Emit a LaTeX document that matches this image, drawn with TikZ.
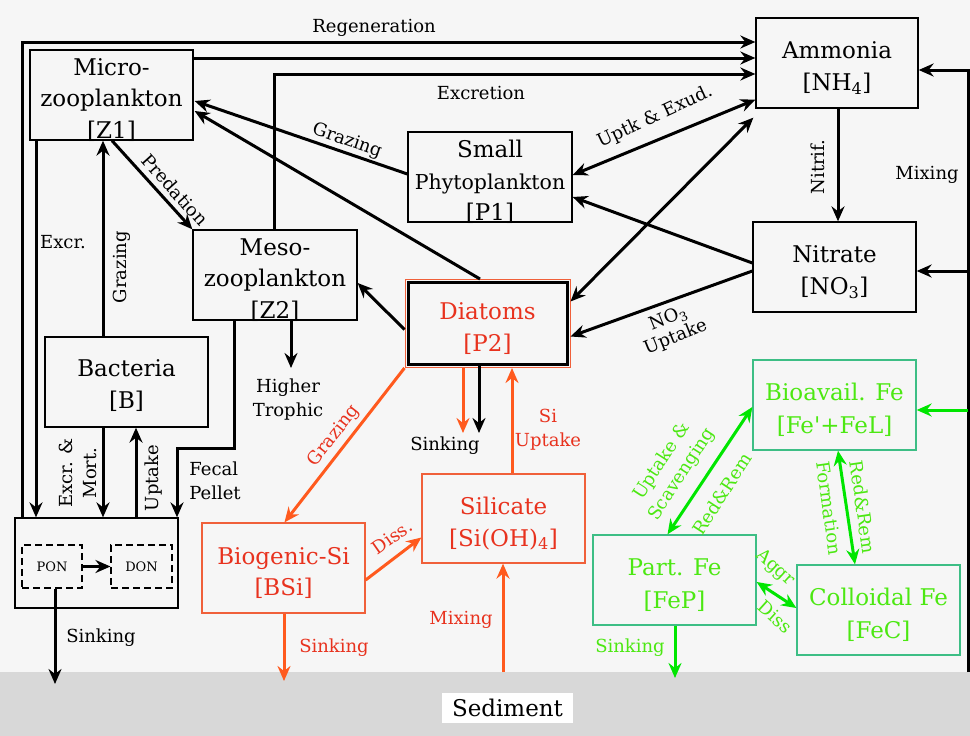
\documentclass[tikz,border=0pt]{standalone}
\usepackage{fontspec}
\setmainfont{DejaVu Serif}[Ligatures=TeXOff]
\usetikzlibrary{arrows.meta,calc}
\definecolor{bg}{HTML}{F6F6F6}
\definecolor{sed}{HTML}{D8D8D8}
\definecolor{sired}{HTML}{E8321E}
\definecolor{siline}{HTML}{FF5A1E}
\definecolor{sibox}{HTML}{F0603A}
\definecolor{fetext}{HTML}{4CE812}
\definecolor{feline}{HTML}{00E600}
\definecolor{febox}{HTML}{3DBE85}
\begin{document}
\begin{tikzpicture}[x=1pt,y=-1pt,
  box/.style={draw, line width=1.3pt, minimum width=163pt, minimum height=90pt, inner sep=0pt},
  bt/.style={align=center, inner sep=0pt, yshift=-5pt, font=\fontsize{23}{31.5}\selectfont},
  lbl/.style={inner sep=1pt, align=center, font=\fontsize{18}{24}\selectfont},
  tip/.style={-{Stealth[length=15pt,width=13pt,inset=5pt]}},
  arr/.style={line width=3pt, tip},
  dbl/.style={line width=3pt, {Stealth[length=15pt,width=13pt,inset=5pt]}-{Stealth[length=15pt,width=13pt,inset=5pt]}},
  oarr/.style={arr, draw=siline},
  garr/.style={arr, draw=feline},
  gdbl/.style={dbl, draw=feline},
  sibx/.style={box, draw=sibox},
  febx/.style={box, draw=febox},
  obt/.style={bt, text=sired},
  gbt/.style={bt, text=fetext},
  olbl/.style={lbl, text=sired},
  glbl/.style={lbl, text=fetext},
  dbox/.style={draw, dash pattern=on 7pt off 4pt, line width=1.1pt, minimum height=43pt, inner sep=0pt, font=\fontsize{13}{15}\selectfont}
]
\useasboundingbox (0,0) rectangle (970,736);
\fill[bg] (0,0) rectangle (970,736);
\fill[sed] (0,672) rectangle (970,736);

% boxes
\node[box] (Z1) at (111.5,95) {};
\node[box, minimum width=164pt] (Z2) at (275,275) {};
\node[box] (B) at (126.5,382) {};
\node[box, minimum width=164pt] (P1) at (490,177) {};
\node[box, minimum width=162pt] (NH4) at (837,63) {};
\node[box] (NO3) at (834.5,267) {};
\node[draw=sibox, line width=1pt, minimum width=165pt, minimum height=88pt] (P2o) at (487.5,323.5) {};
\node[box, line width=3pt, minimum width=159pt, minimum height=82pt] (P2) at (487.5,323.5) {};
\node[sibx, minimum height=89pt] (Sil) at (503.5,518.5) {};
\node[sibx] (BSi) at (283.5,568) {};
\node[febx] (BioFe) at (834.5,405) {};
\node[febx] (PartFe) at (674.5,580) {};
\node[febx] (ColFe) at (878.5,610) {};
\node[box] (DET) at (96.5,563) {};
\node[dbox, minimum width=60pt] (PON) at (52,566.5) {PON};
\node[dbox, minimum width=61pt] (DON) at (141.5,566.5) {DON};
\node[fill=white, inner xsep=10pt, inner ysep=6pt, font=\fontsize{23}{27}\selectfont] (SED) at (507.5,708) {Sediment};

% box texts
\node[bt] (tZ1) at (Z1) {Micro-\\zooplankton\\{}[Z1]};
\node[bt] (tZ2) at (Z2) {Meso-\\zooplankton\\{}[Z2]};
\node[bt, yshift=1.5pt] (tB) at (B) {Bacteria\\{}[B]};
\node[bt] (tP1) at (P1) {Small\\{\fontsize{20.5}{29}\selectfont Phytoplankton}\\{}[P1]};
\node[bt, font=\fontsize{23}{32.5}\selectfont] (tNH4) at (NH4) {Ammonia\\{}[NH\textsubscript{4}]};
\node[bt, font=\fontsize{23}{32.5}\selectfont] (tNO3) at (NO3) {Nitrate\\{}[NO\textsubscript{3}]};
\node[obt] (tP2) at (P2) {Diatoms\\{}[P2]};
\node[obt] (tSil) at (Sil) {Silicate\\{}[Si(OH)\textsubscript{4}]};
\node[obt] (tBSi) at (BSi) {Biogenic-Si\\{}[BSi]};
\node[gbt, font=\fontsize{23}{33}\selectfont] (tBioFe) at (BioFe) {Bioavail. Fe\\{}[Fe'+FeL]};
\node[gbt, font=\fontsize{23}{33}\selectfont] (tPartFe) at (PartFe) {Part. Fe\\{}[FeP]};
\node[gbt, font=\fontsize{23}{33}\selectfont] (tColFe) at (ColFe) {Colloidal Fe\\{}[FeC]};

% coordinates
\coordinate (rg) at (22,42);
\coordinate (y58) at (0,58);
\coordinate (ms) at (274,74);
\coordinate (x36) at (36,0);
\coordinate (x103) at (103,0);
\coordinate (x136) at (136,0);
\coordinate (f1) at (234,448);
\coordinate (f2) at (177,448);
\coordinate (x291) at (291,0);
\coordinate (ht) at (291,368);
\coordinate (x838) at (838,0);
\coordinate (rt) at (968,70);
\coordinate (rb) at (968,672);
\coordinate (rn) at (968,271);
\coordinate (rf) at (968,410);
\coordinate (x463) at (463,0);
\coordinate (x479) at (479,0);
\coordinate (s1) at (463,433);
\coordinate (s2) at (479,433);
\coordinate (x512) at (512,0);
\coordinate (x480) at (480,0);
\coordinate (bs) at (284,681);
\coordinate (mx) at (503,672);
\coordinate (ps) at (55,684);
\coordinate (x675) at (675,0);
\coordinate (fs) at (675,678);
\coordinate (x855) at (855,0);

% black connectors
\draw[arr] (DET.north -| rg) -- (rg) -- (NH4.west |- rg);
\draw[arr] (Z1.east |- y58) -- (NH4.west |- y58);
\draw[arr] (Z2.north -| ms) -- (ms) -- (NH4.west |- ms);
\draw[arr] (Z1.south -| x36) -- (DET.north -| x36);
\draw[arr] (B.north -| x103) -- (Z1.south -| x103);
\draw[arr] (B.south -| x103) -- (DET.north -| x103);
\draw[arr] (DET.north -| x136) -- (B.south -| x136);
\draw[arr] (Z2.south -| f1) -- (f1) -- (f2) -- (DET.north -| f2);
\draw[arr] ($(Z1.south)+(0.5,0)$) -- (Z2.north west);
\draw[arr] ($(P1.west)+(0,-3)$) -- ($(Z1.east)+(1,6)$);
\draw[arr] (P2o.north -| x480) -- ($(Z1.east)+(1,16)$);
\draw[arr] ($(P2o.west)+(0,6)$) -- ($(Z2.east)+(0,8)$);
\draw[arr] (Z2.south -| x291) -- (ht);
\draw[dbl] ($(P1.east)+(0,-2)$) -- ($(NH4.south west)+(0,-9)$);
\draw[dbl] ($(P2o.east)+(0,-22)$) -- ($(NH4.south west)+(-2,9)$);
\draw[arr] ($(NO3.west)+(0,-4)$) -- ($(P1.east)+(0,20)$);
\draw[arr] ($(NO3.west)+(0,4)$) -- ($(P2o.east)+(0,13)$);
\draw[arr] (NH4.south -| x838) -- (NO3.north -| x838);
\draw[line width=3pt] (rb) -- ($(rt)+(0,-1.5)$);
\draw[arr] (rt) -- (NH4.east |- rt);
\draw[arr] (rn) -- (NO3.east |- rn);
\draw[arr] (PON.east) -- (DON.west);
\draw[arr] (PON.south -| ps) -- (ps);
\draw[arr] (P2.south -| x479) -- (s2);

% silica connectors
\draw[oarr] (P2o.south -| x463) -- (s1);
\draw[oarr] (Sil.north -| x512) -- (P2o.south -| x512);
\draw[oarr] (P2o.south west) -- ($(BSi.north)+(1,0)$);
\draw[oarr] ($(BSi.east)+(0,12)$) -- ($(Sil.west)+(0,19)$);
\draw[oarr] (BSi.south -| bs) -- (bs);
\draw[oarr] (mx) -- (Sil.south -| mx);

% iron connectors
\draw[garr] (rf) -- (BioFe.east |- rf);
\draw[gdbl] ($(PartFe.north)+(-7,0)$) -- ($(BioFe.west)+(0,2)$);
\draw[gdbl] (BioFe.south -| x838) -- (ColFe.north -| x855);
\draw[gdbl] ($(PartFe.east)+(0,2)$) -- ($(ColFe.west)+(0,-2)$);
\draw[garr] (PartFe.south -| x675) -- (fs);

% black labels
\node[lbl] (lRegen) at (374,28) {Regeneration};
\node[lbl] (lExcretion) at (481,93) {Excretion};
\node[lbl, rotate=-19] (lGraz1) at (347,141) {Grazing};
\node[lbl, rotate=-48] (lPred) at (175,190) {Predation};
\node[lbl] (lExcr) at (63,242) {Excr.};
\node[lbl, rotate=90] (lGraz2) at (122,267) {Grazing};
\node[lbl, rotate=90] (lExMo) at (78,473) {Excr. \&\\Mort.};
\node[lbl, rotate=90] (lUpt) at (154,478) {Uptake};
\node[lbl, align=left] (lFecal) at (215,481) {Fecal\\Pellet};
\node[lbl] (lHigher) at (288,400) {Higher\\Trophic};
\node[lbl, rotate=25] (lUptk) at (655,117) {Uptk \& Exud.};
\node[lbl, rotate=90] (lNitrif) at (818,167) {Nitrif.};
\node[lbl] (lMix) at (927,175) {Mixing};
\node[lbl, rotate=22, font=\fontsize{18}{20}\selectfont] (lNO3) at (672,328) {NO\textsubscript{3}\\Uptake};
\node[lbl] (lSink1) at (445,446) {Sinking};
\node[lbl] (lSink2) at (101,638) {Sinking};

% silica labels
\node[olbl] (lSi) at (548,430) {Si\\Uptake};
\node[olbl, rotate=52] (lGraz3) at (334,436) {Grazing};
\node[olbl, rotate=35] (lDiss) at (392,537) {Diss.};
\node[olbl] (lSink3) at (334,648) {Sinking};
\node[olbl] (lMix2) at (461,620) {Mixing};

% iron labels
\node[glbl, rotate=57] (lUS) at (672,468) {Uptake \&\\Scavenging};
\node[glbl, rotate=57] (lRR1) at (722,494) {Red\&Rem};
\node[glbl, rotate=-82] (lForm) at (829,508) {Formation};
\node[glbl, rotate=-82] (lRR2) at (863,507) {Red\&Rem};
\node[glbl, rotate=-42] (lAggr) at (775,568) {Aggr};
\node[glbl, rotate=-42] (lDiss2) at (775,617) {Diss};
\node[glbl] (lSink4) at (630,648) {Sinking};
\end{tikzpicture}
\end{document}
